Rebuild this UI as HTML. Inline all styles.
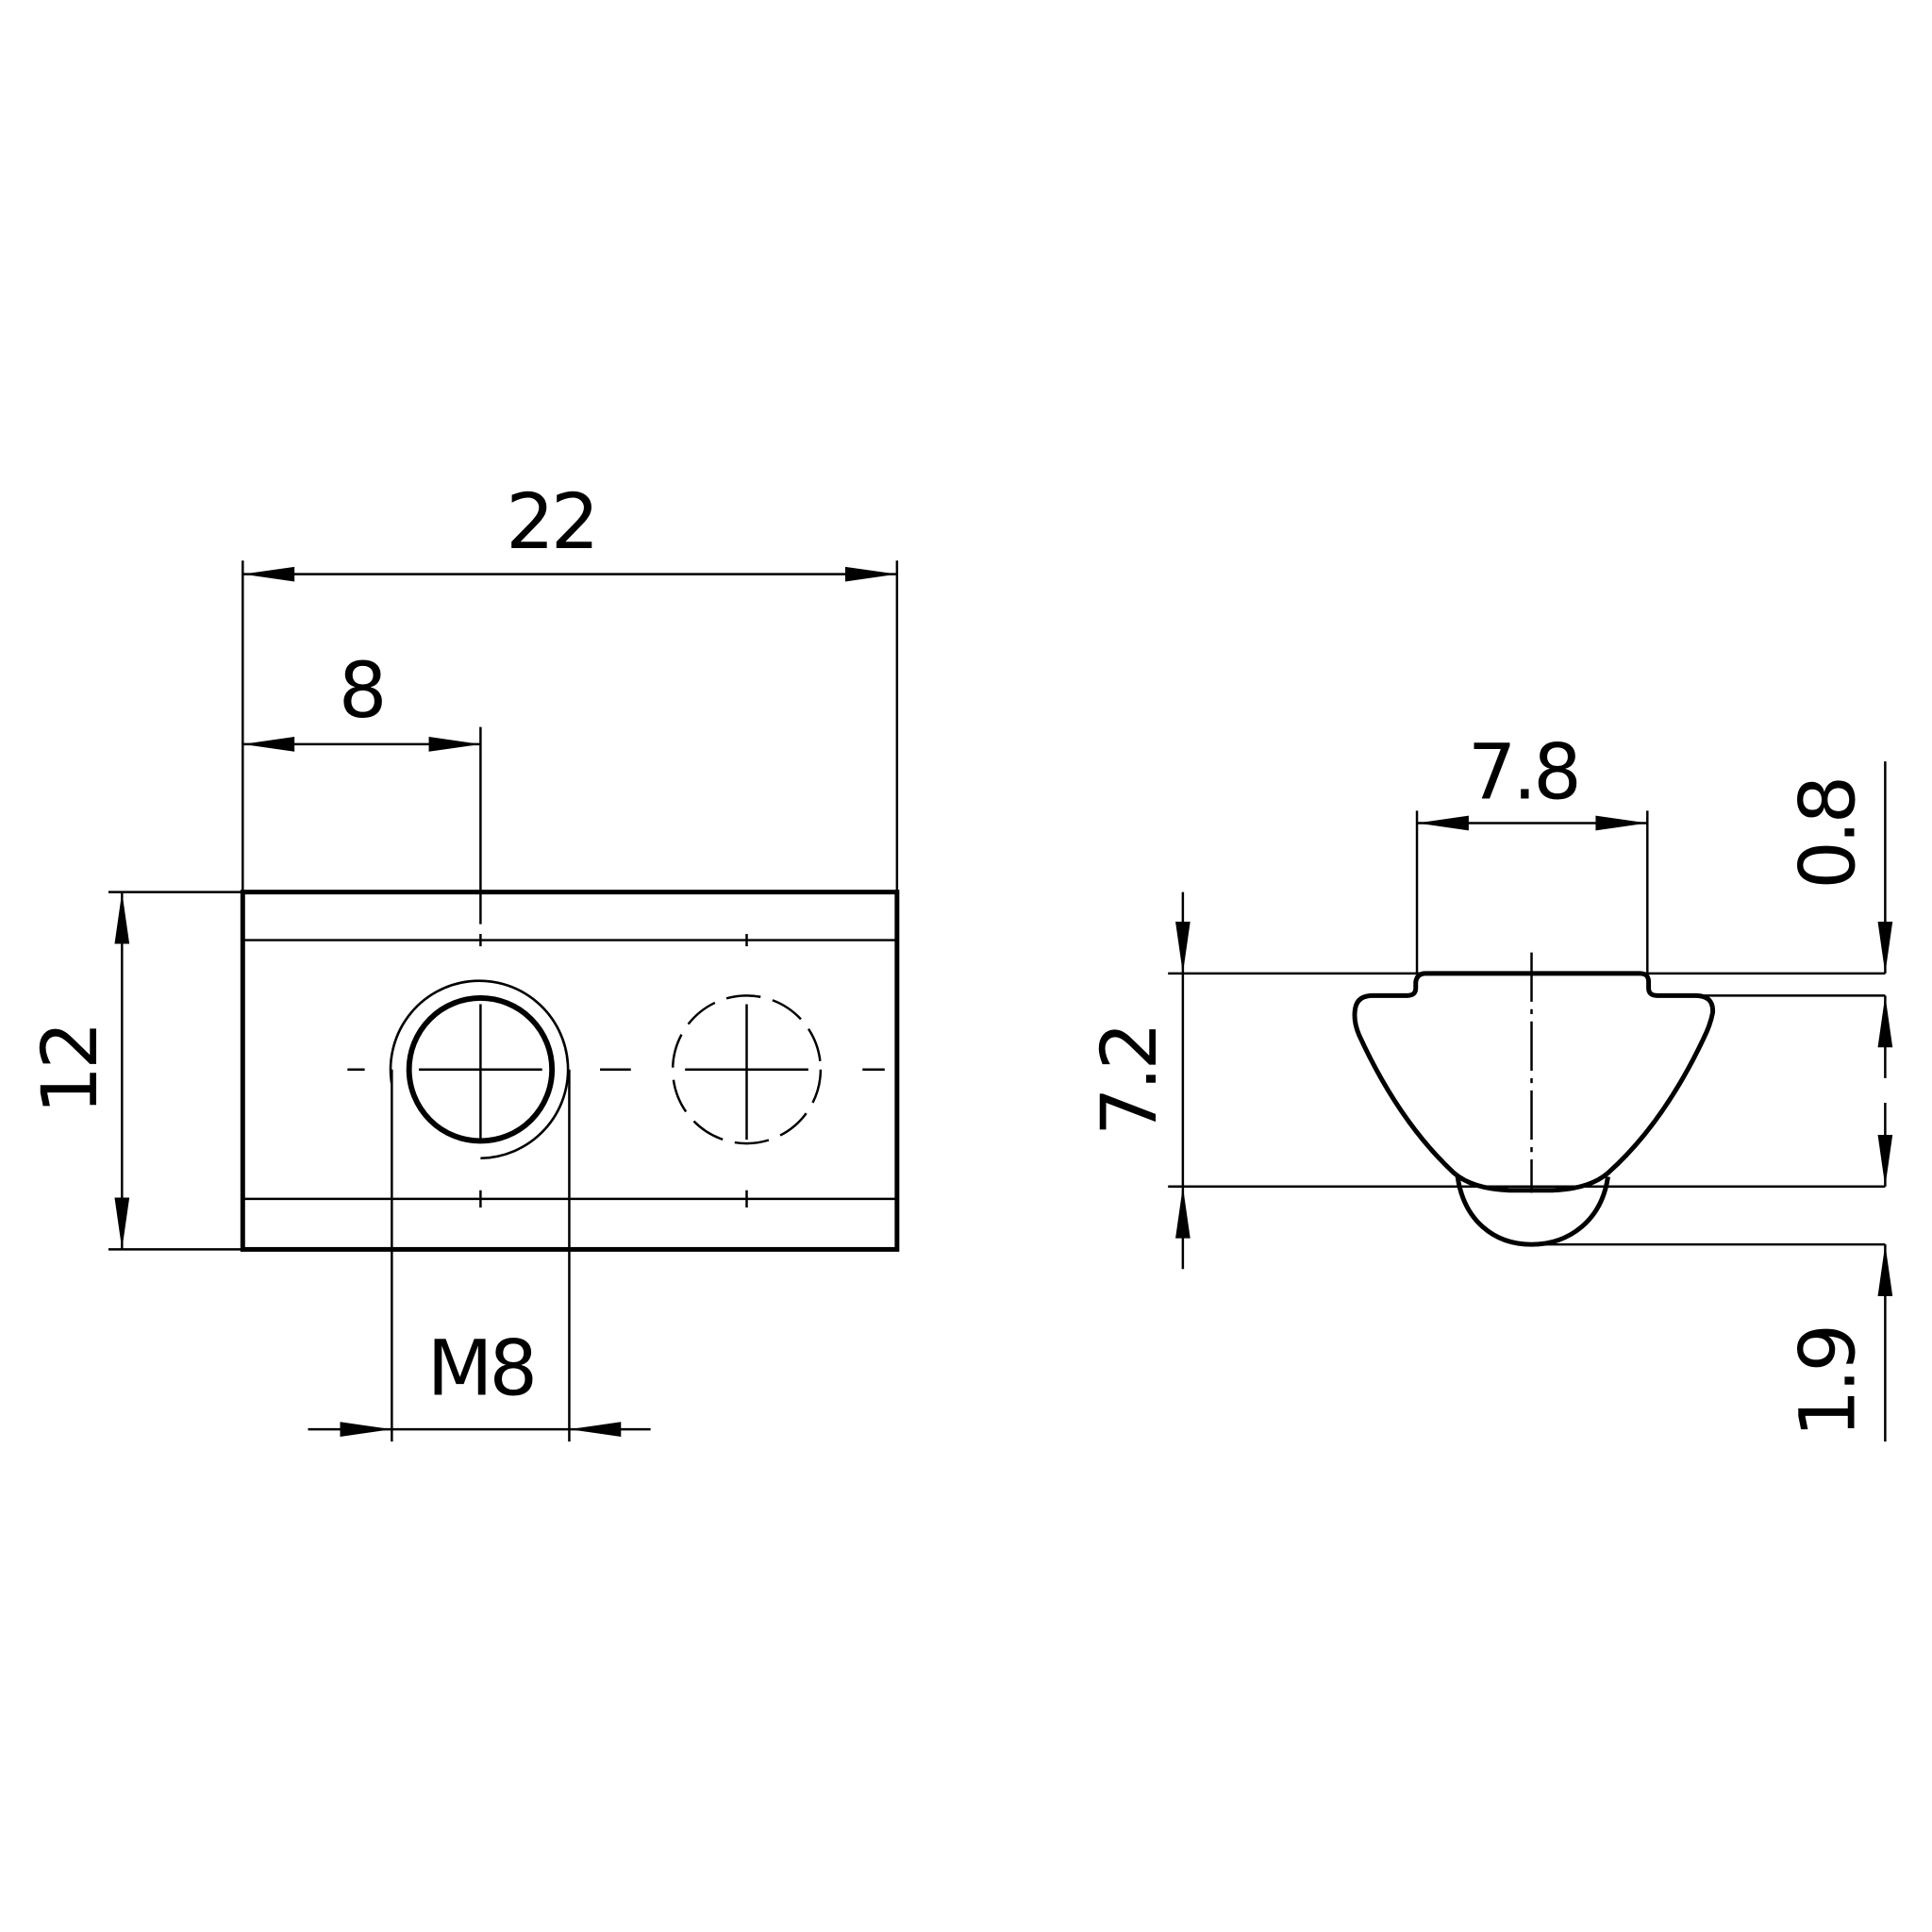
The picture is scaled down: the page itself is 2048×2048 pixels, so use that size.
<!DOCTYPE html>
<html><head><style>html,body{margin:0;padding:0;background:#fff}svg{display:block}</style></head><body>
<svg width="2048" height="2048" viewBox="0 0 1568 1568" xmlns="http://www.w3.org/2000/svg">
<rect width="1568" height="1568" fill="#fff"/>
<g stroke="#000" fill="none" stroke-width="1.9">
<!-- left view -->
<rect x="197" y="724" width="531" height="290" stroke-width="3.8"/>
<line x1="197" y1="763" x2="728" y2="763"/>
<line x1="197" y1="973" x2="728" y2="973"/>
<line x1="197" y1="455" x2="197" y2="724"/>
<line x1="728" y1="455" x2="728" y2="724"/>
<line x1="197" y1="466" x2="728" y2="466"/>
<line x1="390" y1="590" x2="390" y2="750"/>
<line x1="197" y1="604" x2="390" y2="604"/>
<line x1="88" y1="724" x2="197" y2="724"/>
<line x1="88" y1="1014" x2="197" y2="1014"/>
<line x1="99" y1="724" x2="99" y2="1014"/>
<line x1="390" y1="758" x2="390" y2="768"/>
<line x1="390" y1="966" x2="390" y2="980"/>
<line x1="606" y1="758" x2="606" y2="768"/>
<line x1="606" y1="966" x2="606" y2="980"/>
<line x1="282" y1="868" x2="296" y2="868"/>
<line x1="487" y1="868" x2="512" y2="868"/>
<line x1="700" y1="868" x2="718" y2="868"/>
<line x1="340" y1="868" x2="440" y2="868"/>
<line x1="390" y1="815" x2="390" y2="925"/>
<line x1="556" y1="868" x2="656" y2="868"/>
<line x1="606" y1="815" x2="606" y2="925"/>
<circle cx="390" cy="868" r="58" stroke-width="4.5"/>
<path d="M318,880 A72,72 0 1 1 390,940" stroke-width="2"/>
<circle cx="606" cy="868" r="60" stroke-dasharray="28,10"/>
<line x1="318" y1="868" x2="318" y2="1170"/>
<line x1="462" y1="868" x2="462" y2="1170"/>
<line x1="250" y1="1160" x2="528" y2="1160"/>
<!-- right view -->
<line x1="948" y1="790" x2="1530" y2="790"/>
<line x1="948" y1="963" x2="1530" y2="963"/>
<line x1="1380" y1="808" x2="1530" y2="808"/>
<line x1="1245" y1="1010" x2="1530" y2="1010"/>
<line x1="960" y1="724" x2="960" y2="1030"/>
<line x1="1150" y1="658" x2="1150" y2="790"/>
<line x1="1337" y1="658" x2="1337" y2="790"/>
<line x1="1150" y1="668" x2="1337" y2="668"/>
<line x1="1530" y1="618" x2="1530" y2="790"/>
<line x1="1530" y1="808" x2="1530" y2="875"/>
<line x1="1530" y1="895" x2="1530" y2="963"/>
<line x1="1530" y1="1010" x2="1530" y2="1170"/>
<line x1="1243" y1="773" x2="1243" y2="968" stroke-dasharray="40,6,4,6"/>
<path d="M1157,790 L1331,790 Q1338,790 1338,797 L1338,802 Q1338,808 1345,808 L1376,808 Q1391,808 1390,822 Q1388,832 1383,842 Q1350,912 1305,952 Q1290,965 1260,966 L1225,966 Q1195,965 1180,952 Q1135,910 1103,840 Q1098,828 1100,818 Q1102,808 1114,808 L1142,808 Q1149,808 1149,802 L1149,797 Q1150,790 1157,790 Z" stroke-width="3.8"/>
<path d="M1183,955 C1188,990 1212,1010 1243,1010 C1274,1010 1300,990 1305,955" stroke-width="3.8"/>
</g>
<g fill="#000">
<polygon points="197,466 239,460 239,472"/>
<polygon points="728,466 686,460 686,472"/>
<polygon points="197,604 239,598 239,610"/>
<polygon points="390,604 348,598 348,610"/>
<polygon points="99,724 93,766 105,766"/>
<polygon points="99,1014 93,972 105,972"/>
<polygon points="318,1160 276,1154 276,1166"/>
<polygon points="462,1160 504,1154 504,1166"/>
<polygon points="960,790 954,748 966,748"/>
<polygon points="960,963 954,1005 966,1005"/>
<polygon points="1150,668 1192,662 1192,674"/>
<polygon points="1337,668 1295,662 1295,674"/>
<polygon points="1530,790 1524,748 1536,748"/>
<polygon points="1530,808 1524,850 1536,850"/>
<polygon points="1530,963 1524,921 1536,921"/>
<polygon points="1530,1010 1524,1052 1536,1052"/>
</g>
<g font-family="'DejaVu Sans','Liberation Sans',sans-serif" font-size="62" fill="#000" text-anchor="middle" letter-spacing="-3">
<text x="447" y="445">22</text>
<text x="293" y="582">8</text>
<text x="390" y="1132">M8</text>
<text x="1236" y="648">7.8</text>
<text transform="translate(78,868) rotate(-90)">12</text>
<text transform="translate(938,877) rotate(-90)">7.2</text>
<text transform="translate(1505,677) rotate(-90)">0.8</text>
<text transform="translate(1505,1122) rotate(-90)">1.9</text>
</g>
</svg>
</body></html>
